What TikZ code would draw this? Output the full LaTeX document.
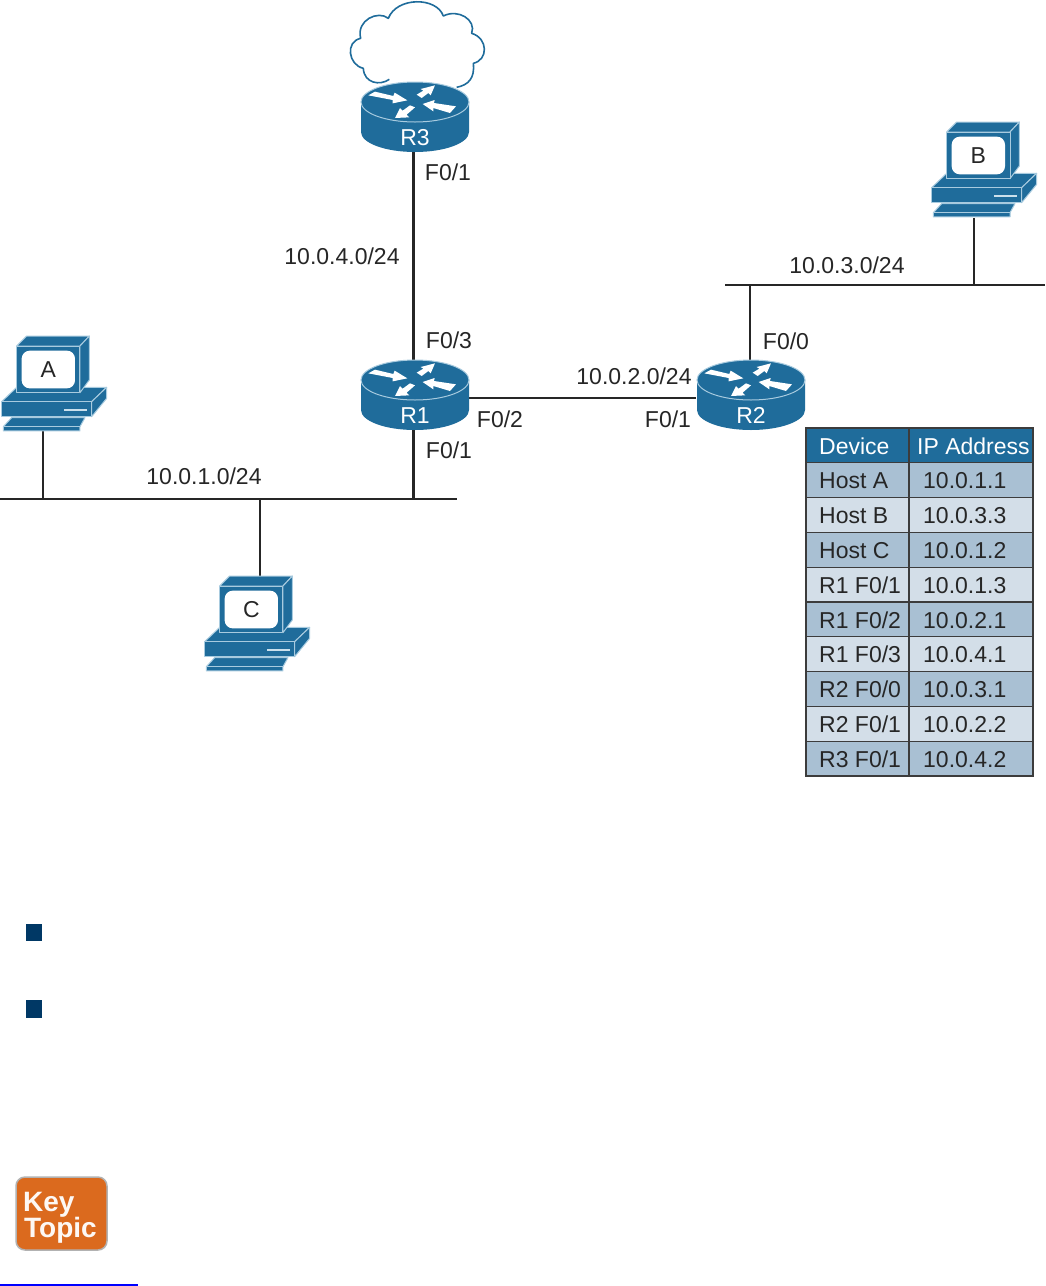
\documentclass[tikz,border=0pt]{standalone}
\usepackage{fontspec}
\setmainfont{Liberation Sans}
\usetikzlibrary{calc}
\definecolor{cisco}{HTML}{1F6C9B}
\definecolor{edgelt}{HTML}{A8CBDF}
\definecolor{rowdark}{HTML}{A9C0D3}
\definecolor{rowlight}{HTML}{D3DEE8}
\definecolor{ink}{HTML}{262626}
\definecolor{bulletc}{HTML}{003865}
\definecolor{keyor}{HTML}{DB6A1E}
\tikzset{
  x=1pt,y=-1pt,
  wire/.style={draw=ink,line width=2.4pt},
  lbl/.style={font=\fontsize{23}{23}\selectfont,text=ink,anchor=base,inner sep=0pt},
  ghost/.style={inner sep=0pt,minimum width=108pt,minimum height=60pt},
  hostghost/.style={inner sep=0pt,minimum width=100pt,minimum height=60pt},
  hface/.style={fill=cisco,draw=edgelt,line width=1pt,line join=round},
  cell/.style={draw=ink!90,line width=1.2pt,inner sep=0pt},
  celltxt/.style={font=\fontsize{23}{23}\selectfont,text=ink,anchor=base west,inner sep=0pt},
  hdrtxt/.style={font=\fontsize{23}{23}\selectfont,text=white,anchor=base west,inner sep=0pt},
  bullet/.style={fill=bulletc,draw=none}
}
% router: #1 x centre, #2 y of top ellipse centre, #3 label
\newcommand{\routerpic}[3]{%
  \begin{scope}[shift={(#1,#2)}]
    \fill[cisco] (-54,30) .. controls (-54,41) and (-30,50) .. (0,50) .. controls (30,50) and (54,41) .. (54,30) -- (54,0) -- (-54,0) -- cycle;
    \draw[fill=cisco,draw=edgelt,line width=1pt] (0,0) ellipse[x radius=54,y radius=20];
    \begin{scope}[shift={(-55,-24)},x=0.3333pt,y=-0.3333pt]
      \fill[white] (25,52) -- (45,41) -- (100,54) -- (104,44) -- (142,67) -- (98,76) -- (98,66) -- cycle;
      \fill[white] (170,50) -- (190,38) -- (182,33) -- (225,22) -- (212,52) -- (205,45) -- (185,60) -- cycle;
      \fill[white] (188,78) -- (224,66) -- (222,75) -- (288,85) -- (270,105) -- (220,90) -- (220,100) -- cycle;
      \fill[white] (105,120) -- (120,90) -- (128,98) -- (150,82) -- (165,88) -- (140,110) -- (148,118) -- cycle;
    \end{scope}
    \node[font=\fontsize{23}{23}\selectfont,text=white,anchor=base,inner sep=0pt] at (0,43) {#3};
  \end{scope}}
% host: #1,#2 origin, #3 label
\newcommand{\hostpic}[3]{%
  \begin{scope}[shift={(#1,#2)},x=0.3333pt,y=-0.3333pt]
    \path[hface] (35,263) -- (255,263) -- (240,290) -- (240,303) -- (10,303) -- (10,290) -- cycle;
    \draw[edgelt,line width=1pt] (10,290) -- (240,290);
    \path[hface] (5,215) -- (50,172) -- (320,172) -- (275,215) -- cycle;
    \path[hface] (275,215) -- (320,172) -- (320,205) -- (275,260) -- cycle;
    \path[hface] (5,215) -- (275,215) -- (275,260) -- (5,260) -- cycle;
    \fill[edgelt!60!white] (192,236) rectangle (262,243);
    \path[hface] (50,48) -- (80,18) -- (268,18) -- (240,48) -- cycle;
    \path[hface] (240,48) -- (268,18) -- (268,150) -- (240,188) -- cycle;
    \path[hface] (50,48) rectangle (240,188);
    \fill[white,rounded corners=8pt] (65,62) rectangle (225,175);
    \node[font=\fontsize{23}{23}\selectfont,text=ink,inner sep=0pt,anchor=base] at (145,142) {#3};
  \end{scope}}
\begin{document}
\begin{tikzpicture}
\useasboundingbox[fill=white] (0,0) rectangle (1045,1286);
% invisible connection nodes
\node[ghost] (R3) at (413.5,122) {};
\node[ghost] (R1) at (413.5,398) {};
\node[ghost] (R2) at (750,398) {};
\node[hostghost] (HA) at (43,400) {};
\node[hostghost] (HB) at (974,188) {};
\node[hostghost] (HC) at (260,640) {};
\coordinate (busL) at (0,499);
\coordinate (busR) at (457,499);
\coordinate (tapA) at (43,499);
\coordinate (tapC) at (260,499);
\coordinate (tapR) at (413.5,499);
\coordinate (bus2L) at (725,285);
\coordinate (bus2R) at (1045,285);
\coordinate (tapB) at (974,285);
\coordinate (tapR2) at (750,285);
% connectors
\draw[wire] (R3.south) -- (R1.north);
\draw[wire] (R1.east) -- (R2.west);
\draw[wire] (R1.south) -- (tapR);
\draw[wire] (busL) -- (busR);
\draw[wire] (HA.south) -- (tapA);
\draw[wire] (HC.north) -- (tapC);
\draw[wire] (bus2L) -- (bus2R);
\draw[wire] (R2.north) -- (tapR2);
\draw[wire] (HB.south) -- (tapB);
% cloud
\begin{scope}[shift={(340,0)},x=0.3333pt,y=-0.3333pt]
  \draw[cisco,line width=1.6pt,fill=white,line join=round]
    (148,238) .. controls (120,258) and (72,250) .. (70,205)
    .. controls (25,195) and (15,125) .. (62,115)
    .. controls (48,60) and (115,30) .. (145,55)
    .. controls (170,-10) and (290,-10) .. (310,48)
    .. controls (355,25) and (410,60) .. (395,100)
    .. controls (445,115) and (445,180) .. (400,190)
    .. controls (405,235) and (385,255) .. (350,262);
\end{scope}
% routers and hosts
\routerpic{415}{102}{R3}
\routerpic{415}{380}{R1}
\routerpic{751}{380}{R2}
\hostpic{0}{330}{A}
\hostpic{930}{116}{B}
\hostpic{203}{570}{C}
% labels
\node[lbl] (l1) at (448,180) {F0/1};
\node[lbl] (l2) at (342,264) {10.0.4.0/24};
\node[lbl] (l3) at (449,348) {F0/3};
\node[lbl] (l4) at (449,458) {F0/1};
\node[lbl] (l5) at (500,427) {F0/2};
\node[lbl] (l6) at (634,384) {10.0.2.0/24};
\node[lbl] (l7) at (668,427) {F0/1};
\node[lbl] (l8) at (786,349) {F0/0};
\node[lbl] (l9) at (847,273) {10.0.3.0/24};
\node[lbl] (l10) at (204,484) {10.0.1.0/24};
% table
\foreach \i/\c/\a/\b/\f in {
  0/cisco/Device/IP Address/hdrtxt,
  1/rowdark/Host A/10.0.1.1/celltxt,
  2/rowlight/Host B/10.0.3.3/celltxt,
  3/rowdark/Host C/10.0.1.2/celltxt,
  4/rowlight/R1 F0{/}1/10.0.1.3/celltxt,
  5/rowdark/R1 F0{/}2/10.0.2.1/celltxt,
  6/rowlight/R1 F0{/}3/10.0.4.1/celltxt,
  7/rowdark/R2 F0{/}0/10.0.3.1/celltxt,
  8/rowlight/R2 F0{/}1/10.0.2.2/celltxt,
  9/rowdark/R3 F0{/}1/10.0.4.2/celltxt}{
  \pgfmathsetmacro{\ya}{428+34.8*\i}
  \pgfmathsetmacro{\yb}{\ya+34.8}
  \pgfmathsetmacro{\yt}{\ya+26}
  \draw[cell,fill=\c] (806,\ya) rectangle (909,\yb);
  \draw[cell,fill=\c] (909,\ya) rectangle (1033,\yb);
  \node[\f] at (819,\yt) {\a};
  \ifnum\i=0
    \node[\f] at (917,\yt) {\b};
  \else
    \node[\f] at (923,\yt) {\b};
  \fi
}
% bullets
\fill[bullet] (26,924) rectangle (42,941);
\fill[bullet] (26,1000) rectangle (42,1018);
% key topic badge
\draw[fill=keyor,draw=black!30,line width=1.5pt,rounded corners=9pt] (16,1177) rectangle (107,1250);
\node[font=\bfseries\fontsize{28}{28}\selectfont,text=white!95!keyor,anchor=base west,inner sep=0pt] at (23,1211) {Key};
\node[font=\bfseries\fontsize{28}{28}\selectfont,text=white!95!keyor,anchor=base west,inner sep=0pt] at (24,1237) {Topic};
% blue rule
\draw[blue,line width=2pt] (0,1285) -- (138,1285);
\end{tikzpicture}
\end{document}
